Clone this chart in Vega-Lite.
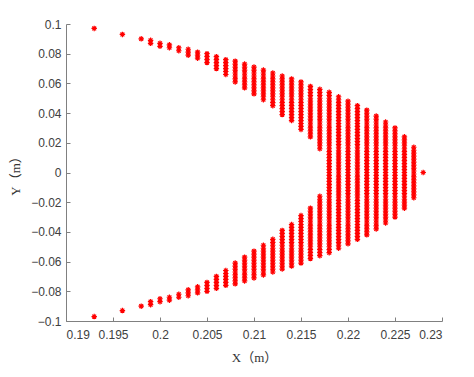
{
"$schema":"https://vega.github.io/schema/vega-lite/v6.json",
"autosize":{"type":"none"},
"padding":{"left":66,"top":24,"right":32,"bottom":56},
"width":376,"height":297,
"background":"white",
"config":{"view":{"stroke":null}},
"data":{"values":[
{"x":0.193,"y":0.097},{"x":0.196,"y":0.093},{"x":0.198,"y":0.090},
{"x":0.199,"y":0.089},{"x":0.199,"y":0.087},
{"x":0.200,"y":0.087},{"x":0.200,"y":0.085},
{"x":0.201,"y":0.086},{"x":0.201,"y":0.084},
{"x":0.202,"y":0.084},{"x":0.202,"y":0.082},
{"x":0.203,"y":0.083},{"x":0.203,"y":0.081},{"x":0.203,"y":0.079},
{"x":0.204,"y":0.081},{"x":0.204,"y":0.079},{"x":0.204,"y":0.077},
{"x":0.205,"y":0.080},{"x":0.205,"y":0.078},{"x":0.205,"y":0.076},{"x":0.205,"y":0.074},
{"x":0.206,"y":0.078},{"x":0.206,"y":0.076},{"x":0.206,"y":0.074},{"x":0.206,"y":0.072},{"x":0.206,"y":0.070},
{"x":0.207,"y":0.076},{"x":0.207,"y":0.074},{"x":0.207,"y":0.072},{"x":0.207,"y":0.070},{"x":0.207,"y":0.068},{"x":0.207,"y":0.066},
{"x":0.208,"y":0.075},{"x":0.208,"y":0.073},{"x":0.208,"y":0.071},{"x":0.208,"y":0.069},{"x":0.208,"y":0.067},{"x":0.208,"y":0.065},{"x":0.208,"y":0.063},{"x":0.208,"y":0.061},
{"x":0.209,"y":0.073},{"x":0.209,"y":0.071},{"x":0.209,"y":0.069},{"x":0.209,"y":0.067},{"x":0.209,"y":0.065},{"x":0.209,"y":0.063},{"x":0.209,"y":0.061},{"x":0.209,"y":0.059},{"x":0.209,"y":0.057},
{"x":0.210,"y":0.071},{"x":0.210,"y":0.069},{"x":0.210,"y":0.067},{"x":0.210,"y":0.065},{"x":0.210,"y":0.063},{"x":0.210,"y":0.061},{"x":0.210,"y":0.059},{"x":0.210,"y":0.057},{"x":0.210,"y":0.055},{"x":0.210,"y":0.053},
{"x":0.211,"y":0.069},{"x":0.211,"y":0.067},{"x":0.211,"y":0.065},{"x":0.211,"y":0.063},{"x":0.211,"y":0.061},{"x":0.211,"y":0.059},{"x":0.211,"y":0.057},{"x":0.211,"y":0.055},{"x":0.211,"y":0.053},{"x":0.211,"y":0.051},{"x":0.211,"y":0.049},
{"x":0.212,"y":0.067},{"x":0.212,"y":0.065},{"x":0.212,"y":0.063},{"x":0.212,"y":0.061},{"x":0.212,"y":0.059},{"x":0.212,"y":0.057},{"x":0.212,"y":0.055},{"x":0.212,"y":0.053},{"x":0.212,"y":0.051},{"x":0.212,"y":0.049},{"x":0.212,"y":0.047},{"x":0.212,"y":0.045},
{"x":0.213,"y":0.065},{"x":0.213,"y":0.063},{"x":0.213,"y":0.061},{"x":0.213,"y":0.059},{"x":0.213,"y":0.057},{"x":0.213,"y":0.055},{"x":0.213,"y":0.053},{"x":0.213,"y":0.051},{"x":0.213,"y":0.049},{"x":0.213,"y":0.047},{"x":0.213,"y":0.045},{"x":0.213,"y":0.043},{"x":0.213,"y":0.041},{"x":0.213,"y":0.039},
{"x":0.214,"y":0.063},{"x":0.214,"y":0.061},{"x":0.214,"y":0.059},{"x":0.214,"y":0.057},{"x":0.214,"y":0.055},{"x":0.214,"y":0.053},{"x":0.214,"y":0.051},{"x":0.214,"y":0.049},{"x":0.214,"y":0.047},{"x":0.214,"y":0.045},{"x":0.214,"y":0.043},{"x":0.214,"y":0.041},{"x":0.214,"y":0.039},{"x":0.214,"y":0.037},{"x":0.214,"y":0.035},
{"x":0.215,"y":0.061},{"x":0.215,"y":0.059},{"x":0.215,"y":0.057},{"x":0.215,"y":0.055},{"x":0.215,"y":0.053},{"x":0.215,"y":0.051},{"x":0.215,"y":0.049},{"x":0.215,"y":0.047},{"x":0.215,"y":0.045},{"x":0.215,"y":0.043},{"x":0.215,"y":0.041},{"x":0.215,"y":0.039},{"x":0.215,"y":0.037},{"x":0.215,"y":0.035},{"x":0.215,"y":0.033},{"x":0.215,"y":0.031},{"x":0.215,"y":0.029},
{"x":0.216,"y":0.058},{"x":0.216,"y":0.056},{"x":0.216,"y":0.054},{"x":0.216,"y":0.052},{"x":0.216,"y":0.050},{"x":0.216,"y":0.048},{"x":0.216,"y":0.046},{"x":0.216,"y":0.044},{"x":0.216,"y":0.042},{"x":0.216,"y":0.040},{"x":0.216,"y":0.038},{"x":0.216,"y":0.036},{"x":0.216,"y":0.034},{"x":0.216,"y":0.032},{"x":0.216,"y":0.030},{"x":0.216,"y":0.028},{"x":0.216,"y":0.026},{"x":0.216,"y":0.024},
{"x":0.217,"y":0.056},{"x":0.217,"y":0.054},{"x":0.217,"y":0.052},{"x":0.217,"y":0.050},{"x":0.217,"y":0.048},{"x":0.217,"y":0.046},{"x":0.217,"y":0.044},{"x":0.217,"y":0.042},{"x":0.217,"y":0.040},{"x":0.217,"y":0.038},{"x":0.217,"y":0.036},{"x":0.217,"y":0.034},{"x":0.217,"y":0.032},{"x":0.217,"y":0.030},{"x":0.217,"y":0.028},{"x":0.217,"y":0.026},{"x":0.217,"y":0.024},{"x":0.217,"y":0.022},{"x":0.217,"y":0.020},{"x":0.217,"y":0.018},{"x":0.217,"y":0.016},
{"x":0.193,"y":-0.097},{"x":0.196,"y":-0.093},{"x":0.198,"y":-0.090},
{"x":0.199,"y":-0.089},{"x":0.199,"y":-0.087},
{"x":0.200,"y":-0.087},{"x":0.200,"y":-0.085},
{"x":0.201,"y":-0.086},{"x":0.201,"y":-0.084},
{"x":0.202,"y":-0.084},{"x":0.202,"y":-0.082},
{"x":0.203,"y":-0.083},{"x":0.203,"y":-0.081},{"x":0.203,"y":-0.079},
{"x":0.204,"y":-0.081},{"x":0.204,"y":-0.079},{"x":0.204,"y":-0.077},
{"x":0.205,"y":-0.080},{"x":0.205,"y":-0.078},{"x":0.205,"y":-0.076},{"x":0.205,"y":-0.074},
{"x":0.206,"y":-0.078},{"x":0.206,"y":-0.076},{"x":0.206,"y":-0.074},{"x":0.206,"y":-0.072},{"x":0.206,"y":-0.070},
{"x":0.207,"y":-0.076},{"x":0.207,"y":-0.074},{"x":0.207,"y":-0.072},{"x":0.207,"y":-0.070},{"x":0.207,"y":-0.068},{"x":0.207,"y":-0.066},
{"x":0.208,"y":-0.075},{"x":0.208,"y":-0.073},{"x":0.208,"y":-0.071},{"x":0.208,"y":-0.069},{"x":0.208,"y":-0.067},{"x":0.208,"y":-0.065},{"x":0.208,"y":-0.063},{"x":0.208,"y":-0.061},
{"x":0.209,"y":-0.073},{"x":0.209,"y":-0.071},{"x":0.209,"y":-0.069},{"x":0.209,"y":-0.067},{"x":0.209,"y":-0.065},{"x":0.209,"y":-0.063},{"x":0.209,"y":-0.061},{"x":0.209,"y":-0.059},{"x":0.209,"y":-0.057},
{"x":0.210,"y":-0.071},{"x":0.210,"y":-0.069},{"x":0.210,"y":-0.067},{"x":0.210,"y":-0.065},{"x":0.210,"y":-0.063},{"x":0.210,"y":-0.061},{"x":0.210,"y":-0.059},{"x":0.210,"y":-0.057},{"x":0.210,"y":-0.055},{"x":0.210,"y":-0.053},
{"x":0.211,"y":-0.069},{"x":0.211,"y":-0.067},{"x":0.211,"y":-0.065},{"x":0.211,"y":-0.063},{"x":0.211,"y":-0.061},{"x":0.211,"y":-0.059},{"x":0.211,"y":-0.057},{"x":0.211,"y":-0.055},{"x":0.211,"y":-0.053},{"x":0.211,"y":-0.051},{"x":0.211,"y":-0.049},
{"x":0.212,"y":-0.067},{"x":0.212,"y":-0.065},{"x":0.212,"y":-0.063},{"x":0.212,"y":-0.061},{"x":0.212,"y":-0.059},{"x":0.212,"y":-0.057},{"x":0.212,"y":-0.055},{"x":0.212,"y":-0.053},{"x":0.212,"y":-0.051},{"x":0.212,"y":-0.049},{"x":0.212,"y":-0.047},{"x":0.212,"y":-0.045},
{"x":0.213,"y":-0.065},{"x":0.213,"y":-0.063},{"x":0.213,"y":-0.061},{"x":0.213,"y":-0.059},{"x":0.213,"y":-0.057},{"x":0.213,"y":-0.055},{"x":0.213,"y":-0.053},{"x":0.213,"y":-0.051},{"x":0.213,"y":-0.049},{"x":0.213,"y":-0.047},{"x":0.213,"y":-0.045},{"x":0.213,"y":-0.043},{"x":0.213,"y":-0.041},{"x":0.213,"y":-0.039},
{"x":0.214,"y":-0.063},{"x":0.214,"y":-0.061},{"x":0.214,"y":-0.059},{"x":0.214,"y":-0.057},{"x":0.214,"y":-0.055},{"x":0.214,"y":-0.053},{"x":0.214,"y":-0.051},{"x":0.214,"y":-0.049},{"x":0.214,"y":-0.047},{"x":0.214,"y":-0.045},{"x":0.214,"y":-0.043},{"x":0.214,"y":-0.041},{"x":0.214,"y":-0.039},{"x":0.214,"y":-0.037},{"x":0.214,"y":-0.035},
{"x":0.215,"y":-0.061},{"x":0.215,"y":-0.059},{"x":0.215,"y":-0.057},{"x":0.215,"y":-0.055},{"x":0.215,"y":-0.053},{"x":0.215,"y":-0.051},{"x":0.215,"y":-0.049},{"x":0.215,"y":-0.047},{"x":0.215,"y":-0.045},{"x":0.215,"y":-0.043},{"x":0.215,"y":-0.041},{"x":0.215,"y":-0.039},{"x":0.215,"y":-0.037},{"x":0.215,"y":-0.035},{"x":0.215,"y":-0.033},{"x":0.215,"y":-0.031},{"x":0.215,"y":-0.029},
{"x":0.216,"y":-0.058},{"x":0.216,"y":-0.056},{"x":0.216,"y":-0.054},{"x":0.216,"y":-0.052},{"x":0.216,"y":-0.050},{"x":0.216,"y":-0.048},{"x":0.216,"y":-0.046},{"x":0.216,"y":-0.044},{"x":0.216,"y":-0.042},{"x":0.216,"y":-0.040},{"x":0.216,"y":-0.038},{"x":0.216,"y":-0.036},{"x":0.216,"y":-0.034},{"x":0.216,"y":-0.032},{"x":0.216,"y":-0.030},{"x":0.216,"y":-0.028},{"x":0.216,"y":-0.026},{"x":0.216,"y":-0.024},
{"x":0.217,"y":-0.056},{"x":0.217,"y":-0.054},{"x":0.217,"y":-0.052},{"x":0.217,"y":-0.050},{"x":0.217,"y":-0.048},{"x":0.217,"y":-0.046},{"x":0.217,"y":-0.044},{"x":0.217,"y":-0.042},{"x":0.217,"y":-0.040},{"x":0.217,"y":-0.038},{"x":0.217,"y":-0.036},{"x":0.217,"y":-0.034},{"x":0.217,"y":-0.032},{"x":0.217,"y":-0.030},{"x":0.217,"y":-0.028},{"x":0.217,"y":-0.026},{"x":0.217,"y":-0.024},{"x":0.217,"y":-0.022},{"x":0.217,"y":-0.020},{"x":0.217,"y":-0.018},{"x":0.217,"y":-0.016},
{"x":0.218,"y":0.054},{"x":0.218,"y":0.052},{"x":0.218,"y":0.050},{"x":0.218,"y":0.048},{"x":0.218,"y":0.046},{"x":0.218,"y":0.044},{"x":0.218,"y":0.042},{"x":0.218,"y":0.040},{"x":0.218,"y":0.038},{"x":0.218,"y":0.036},{"x":0.218,"y":0.034},{"x":0.218,"y":0.032},{"x":0.218,"y":0.030},{"x":0.218,"y":0.028},{"x":0.218,"y":0.026},{"x":0.218,"y":0.024},{"x":0.218,"y":0.022},{"x":0.218,"y":0.020},{"x":0.218,"y":0.018},{"x":0.218,"y":0.016},{"x":0.218,"y":0.014},{"x":0.218,"y":0.012},{"x":0.218,"y":0.010},{"x":0.218,"y":0.008},{"x":0.218,"y":0.006},{"x":0.218,"y":0.004},{"x":0.218,"y":0.002},{"x":0.218,"y":0},{"x":0.218,"y":-0.002},{"x":0.218,"y":-0.004},{"x":0.218,"y":-0.006},{"x":0.218,"y":-0.008},{"x":0.218,"y":-0.010},{"x":0.218,"y":-0.012},{"x":0.218,"y":-0.014},{"x":0.218,"y":-0.016},{"x":0.218,"y":-0.018},{"x":0.218,"y":-0.020},{"x":0.218,"y":-0.022},{"x":0.218,"y":-0.024},{"x":0.218,"y":-0.026},{"x":0.218,"y":-0.028},{"x":0.218,"y":-0.030},{"x":0.218,"y":-0.032},{"x":0.218,"y":-0.034},{"x":0.218,"y":-0.036},{"x":0.218,"y":-0.038},{"x":0.218,"y":-0.040},{"x":0.218,"y":-0.042},{"x":0.218,"y":-0.044},{"x":0.218,"y":-0.046},{"x":0.218,"y":-0.048},{"x":0.218,"y":-0.050},{"x":0.218,"y":-0.052},{"x":0.218,"y":-0.054},
{"x":0.219,"y":0.051},{"x":0.219,"y":0.049},{"x":0.219,"y":0.047},{"x":0.219,"y":0.045},{"x":0.219,"y":0.043},{"x":0.219,"y":0.041},{"x":0.219,"y":0.039},{"x":0.219,"y":0.037},{"x":0.219,"y":0.035},{"x":0.219,"y":0.033},{"x":0.219,"y":0.031},{"x":0.219,"y":0.029},{"x":0.219,"y":0.027},{"x":0.219,"y":0.025},{"x":0.219,"y":0.023},{"x":0.219,"y":0.021},{"x":0.219,"y":0.019},{"x":0.219,"y":0.017},{"x":0.219,"y":0.015},{"x":0.219,"y":0.013},{"x":0.219,"y":0.011},{"x":0.219,"y":0.009},{"x":0.219,"y":0.007},{"x":0.219,"y":0.005},{"x":0.219,"y":0.003},{"x":0.219,"y":0.001},{"x":0.219,"y":-0.001},{"x":0.219,"y":-0.003},{"x":0.219,"y":-0.005},{"x":0.219,"y":-0.007},{"x":0.219,"y":-0.009},{"x":0.219,"y":-0.011},{"x":0.219,"y":-0.013},{"x":0.219,"y":-0.015},{"x":0.219,"y":-0.017},{"x":0.219,"y":-0.019},{"x":0.219,"y":-0.021},{"x":0.219,"y":-0.023},{"x":0.219,"y":-0.025},{"x":0.219,"y":-0.027},{"x":0.219,"y":-0.029},{"x":0.219,"y":-0.031},{"x":0.219,"y":-0.033},{"x":0.219,"y":-0.035},{"x":0.219,"y":-0.037},{"x":0.219,"y":-0.039},{"x":0.219,"y":-0.041},{"x":0.219,"y":-0.043},{"x":0.219,"y":-0.045},{"x":0.219,"y":-0.047},{"x":0.219,"y":-0.049},{"x":0.219,"y":-0.051},
{"x":0.220,"y":0.048},{"x":0.220,"y":0.046},{"x":0.220,"y":0.044},{"x":0.220,"y":0.042},{"x":0.220,"y":0.040},{"x":0.220,"y":0.038},{"x":0.220,"y":0.036},{"x":0.220,"y":0.034},{"x":0.220,"y":0.032},{"x":0.220,"y":0.030},{"x":0.220,"y":0.028},{"x":0.220,"y":0.026},{"x":0.220,"y":0.024},{"x":0.220,"y":0.022},{"x":0.220,"y":0.020},{"x":0.220,"y":0.018},{"x":0.220,"y":0.016},{"x":0.220,"y":0.014},{"x":0.220,"y":0.012},{"x":0.220,"y":0.010},{"x":0.220,"y":0.008},{"x":0.220,"y":0.006},{"x":0.220,"y":0.004},{"x":0.220,"y":0.002},{"x":0.220,"y":0},{"x":0.220,"y":-0.002},{"x":0.220,"y":-0.004},{"x":0.220,"y":-0.006},{"x":0.220,"y":-0.008},{"x":0.220,"y":-0.010},{"x":0.220,"y":-0.012},{"x":0.220,"y":-0.014},{"x":0.220,"y":-0.016},{"x":0.220,"y":-0.018},{"x":0.220,"y":-0.020},{"x":0.220,"y":-0.022},{"x":0.220,"y":-0.024},{"x":0.220,"y":-0.026},{"x":0.220,"y":-0.028},{"x":0.220,"y":-0.030},{"x":0.220,"y":-0.032},{"x":0.220,"y":-0.034},{"x":0.220,"y":-0.036},{"x":0.220,"y":-0.038},{"x":0.220,"y":-0.040},{"x":0.220,"y":-0.042},{"x":0.220,"y":-0.044},{"x":0.220,"y":-0.046},{"x":0.220,"y":-0.048},
{"x":0.221,"y":0.045},{"x":0.221,"y":0.043},{"x":0.221,"y":0.041},{"x":0.221,"y":0.039},{"x":0.221,"y":0.037},{"x":0.221,"y":0.035},{"x":0.221,"y":0.033},{"x":0.221,"y":0.031},{"x":0.221,"y":0.029},{"x":0.221,"y":0.027},{"x":0.221,"y":0.025},{"x":0.221,"y":0.023},{"x":0.221,"y":0.021},{"x":0.221,"y":0.019},{"x":0.221,"y":0.017},{"x":0.221,"y":0.015},{"x":0.221,"y":0.013},{"x":0.221,"y":0.011},{"x":0.221,"y":0.009},{"x":0.221,"y":0.007},{"x":0.221,"y":0.005},{"x":0.221,"y":0.003},{"x":0.221,"y":0.001},{"x":0.221,"y":-0.001},{"x":0.221,"y":-0.003},{"x":0.221,"y":-0.005},{"x":0.221,"y":-0.007},{"x":0.221,"y":-0.009},{"x":0.221,"y":-0.011},{"x":0.221,"y":-0.013},{"x":0.221,"y":-0.015},{"x":0.221,"y":-0.017},{"x":0.221,"y":-0.019},{"x":0.221,"y":-0.021},{"x":0.221,"y":-0.023},{"x":0.221,"y":-0.025},{"x":0.221,"y":-0.027},{"x":0.221,"y":-0.029},{"x":0.221,"y":-0.031},{"x":0.221,"y":-0.033},{"x":0.221,"y":-0.035},{"x":0.221,"y":-0.037},{"x":0.221,"y":-0.039},{"x":0.221,"y":-0.041},{"x":0.221,"y":-0.043},{"x":0.221,"y":-0.045},
{"x":0.222,"y":0.042},{"x":0.222,"y":0.040},{"x":0.222,"y":0.038},{"x":0.222,"y":0.036},{"x":0.222,"y":0.034},{"x":0.222,"y":0.032},{"x":0.222,"y":0.030},{"x":0.222,"y":0.028},{"x":0.222,"y":0.026},{"x":0.222,"y":0.024},{"x":0.222,"y":0.022},{"x":0.222,"y":0.020},{"x":0.222,"y":0.018},{"x":0.222,"y":0.016},{"x":0.222,"y":0.014},{"x":0.222,"y":0.012},{"x":0.222,"y":0.010},{"x":0.222,"y":0.008},{"x":0.222,"y":0.006},{"x":0.222,"y":0.004},{"x":0.222,"y":0.002},{"x":0.222,"y":0},{"x":0.222,"y":-0.002},{"x":0.222,"y":-0.004},{"x":0.222,"y":-0.006},{"x":0.222,"y":-0.008},{"x":0.222,"y":-0.010},{"x":0.222,"y":-0.012},{"x":0.222,"y":-0.014},{"x":0.222,"y":-0.016},{"x":0.222,"y":-0.018},{"x":0.222,"y":-0.020},{"x":0.222,"y":-0.022},{"x":0.222,"y":-0.024},{"x":0.222,"y":-0.026},{"x":0.222,"y":-0.028},{"x":0.222,"y":-0.030},{"x":0.222,"y":-0.032},{"x":0.222,"y":-0.034},{"x":0.222,"y":-0.036},{"x":0.222,"y":-0.038},{"x":0.222,"y":-0.040},{"x":0.222,"y":-0.042},
{"x":0.223,"y":0.038},{"x":0.223,"y":0.036},{"x":0.223,"y":0.034},{"x":0.223,"y":0.032},{"x":0.223,"y":0.030},{"x":0.223,"y":0.028},{"x":0.223,"y":0.026},{"x":0.223,"y":0.024},{"x":0.223,"y":0.022},{"x":0.223,"y":0.020},{"x":0.223,"y":0.018},{"x":0.223,"y":0.016},{"x":0.223,"y":0.014},{"x":0.223,"y":0.012},{"x":0.223,"y":0.010},{"x":0.223,"y":0.008},{"x":0.223,"y":0.006},{"x":0.223,"y":0.004},{"x":0.223,"y":0.002},{"x":0.223,"y":0},{"x":0.223,"y":-0.002},{"x":0.223,"y":-0.004},{"x":0.223,"y":-0.006},{"x":0.223,"y":-0.008},{"x":0.223,"y":-0.010},{"x":0.223,"y":-0.012},{"x":0.223,"y":-0.014},{"x":0.223,"y":-0.016},{"x":0.223,"y":-0.018},{"x":0.223,"y":-0.020},{"x":0.223,"y":-0.022},{"x":0.223,"y":-0.024},{"x":0.223,"y":-0.026},{"x":0.223,"y":-0.028},{"x":0.223,"y":-0.030},{"x":0.223,"y":-0.032},{"x":0.223,"y":-0.034},{"x":0.223,"y":-0.036},{"x":0.223,"y":-0.038},
{"x":0.224,"y":0.034},{"x":0.224,"y":0.032},{"x":0.224,"y":0.030},{"x":0.224,"y":0.028},{"x":0.224,"y":0.026},{"x":0.224,"y":0.024},{"x":0.224,"y":0.022},{"x":0.224,"y":0.020},{"x":0.224,"y":0.018},{"x":0.224,"y":0.016},{"x":0.224,"y":0.014},{"x":0.224,"y":0.012},{"x":0.224,"y":0.010},{"x":0.224,"y":0.008},{"x":0.224,"y":0.006},{"x":0.224,"y":0.004},{"x":0.224,"y":0.002},{"x":0.224,"y":0},{"x":0.224,"y":-0.002},{"x":0.224,"y":-0.004},{"x":0.224,"y":-0.006},{"x":0.224,"y":-0.008},{"x":0.224,"y":-0.010},{"x":0.224,"y":-0.012},{"x":0.224,"y":-0.014},{"x":0.224,"y":-0.016},{"x":0.224,"y":-0.018},{"x":0.224,"y":-0.020},{"x":0.224,"y":-0.022},{"x":0.224,"y":-0.024},{"x":0.224,"y":-0.026},{"x":0.224,"y":-0.028},{"x":0.224,"y":-0.030},{"x":0.224,"y":-0.032},{"x":0.224,"y":-0.034},
{"x":0.225,"y":0.030},{"x":0.225,"y":0.028},{"x":0.225,"y":0.026},{"x":0.225,"y":0.024},{"x":0.225,"y":0.022},{"x":0.225,"y":0.020},{"x":0.225,"y":0.018},{"x":0.225,"y":0.016},{"x":0.225,"y":0.014},{"x":0.225,"y":0.012},{"x":0.225,"y":0.010},{"x":0.225,"y":0.008},{"x":0.225,"y":0.006},{"x":0.225,"y":0.004},{"x":0.225,"y":0.002},{"x":0.225,"y":0},{"x":0.225,"y":-0.002},{"x":0.225,"y":-0.004},{"x":0.225,"y":-0.006},{"x":0.225,"y":-0.008},{"x":0.225,"y":-0.010},{"x":0.225,"y":-0.012},{"x":0.225,"y":-0.014},{"x":0.225,"y":-0.016},{"x":0.225,"y":-0.018},{"x":0.225,"y":-0.020},{"x":0.225,"y":-0.022},{"x":0.225,"y":-0.024},{"x":0.225,"y":-0.026},{"x":0.225,"y":-0.028},{"x":0.225,"y":-0.030},
{"x":0.226,"y":0.024},{"x":0.226,"y":0.022},{"x":0.226,"y":0.020},{"x":0.226,"y":0.018},{"x":0.226,"y":0.016},{"x":0.226,"y":0.014},{"x":0.226,"y":0.012},{"x":0.226,"y":0.010},{"x":0.226,"y":0.008},{"x":0.226,"y":0.006},{"x":0.226,"y":0.004},{"x":0.226,"y":0.002},{"x":0.226,"y":0},{"x":0.226,"y":-0.002},{"x":0.226,"y":-0.004},{"x":0.226,"y":-0.006},{"x":0.226,"y":-0.008},{"x":0.226,"y":-0.010},{"x":0.226,"y":-0.012},{"x":0.226,"y":-0.014},{"x":0.226,"y":-0.016},{"x":0.226,"y":-0.018},{"x":0.226,"y":-0.020},{"x":0.226,"y":-0.022},{"x":0.226,"y":-0.024},
{"x":0.227,"y":0.017},{"x":0.227,"y":0.015},{"x":0.227,"y":0.013},{"x":0.227,"y":0.011},{"x":0.227,"y":0.009},{"x":0.227,"y":0.007},{"x":0.227,"y":0.005},{"x":0.227,"y":0.003},{"x":0.227,"y":0.001},{"x":0.227,"y":-0.001},{"x":0.227,"y":-0.003},{"x":0.227,"y":-0.005},{"x":0.227,"y":-0.007},{"x":0.227,"y":-0.009},{"x":0.227,"y":-0.011},{"x":0.227,"y":-0.013},{"x":0.227,"y":-0.015},{"x":0.227,"y":-0.017},
{"x":0.228,"y":0}
]},
"mark":{"type":"point","shape":"M-1,0L1,0M0,-1L0,1M-0.7,-0.7L0.7,0.7M-0.7,0.7L0.7,-0.7","filled":false,"stroke":"#ff0000","strokeWidth":1.2,"size":30,"opacity":1},
"encoding":{
"x":{"field":"x","type":"quantitative","scale":{"domain":[0.19,0.23],"nice":false,"zero":false},
"axis":{"values":[0.19,0.195,0.2,0.205,0.21,0.215,0.22,0.225,0.23],"format":"~g","title":"X（m）","grid":false,"domainColor":"#808080","tickColor":"#808080","tickSize":-4,"labelPadding":12,"labelFont":"Liberation Sans","labelFontSize":12,"labelColor":"#404040","titleFont":"Liberation Serif, Noto Sans CJK SC","titleFontSize":13,"titleFontWeight":"normal","titleColor":"#333333","titlePadding":11}},
"y":{"field":"y","type":"quantitative","scale":{"domain":[-0.1,0.1],"nice":false,"zero":false},
"axis":{"values":[-0.1,-0.08,-0.06,-0.04,-0.02,0,0.02,0.04,0.06,0.08,0.1],"format":"~g","title":"Y（m）","grid":false,"domainColor":"#808080","tickColor":"#808080","tickSize":-4,"labelPadding":9,"labelFont":"Liberation Sans","labelFontSize":12,"labelColor":"#404040","titleFont":"Liberation Serif, Noto Sans CJK SC","titleFontSize":13,"titleFontWeight":"normal","titleColor":"#333333","titlePadding":8}}
}
}
